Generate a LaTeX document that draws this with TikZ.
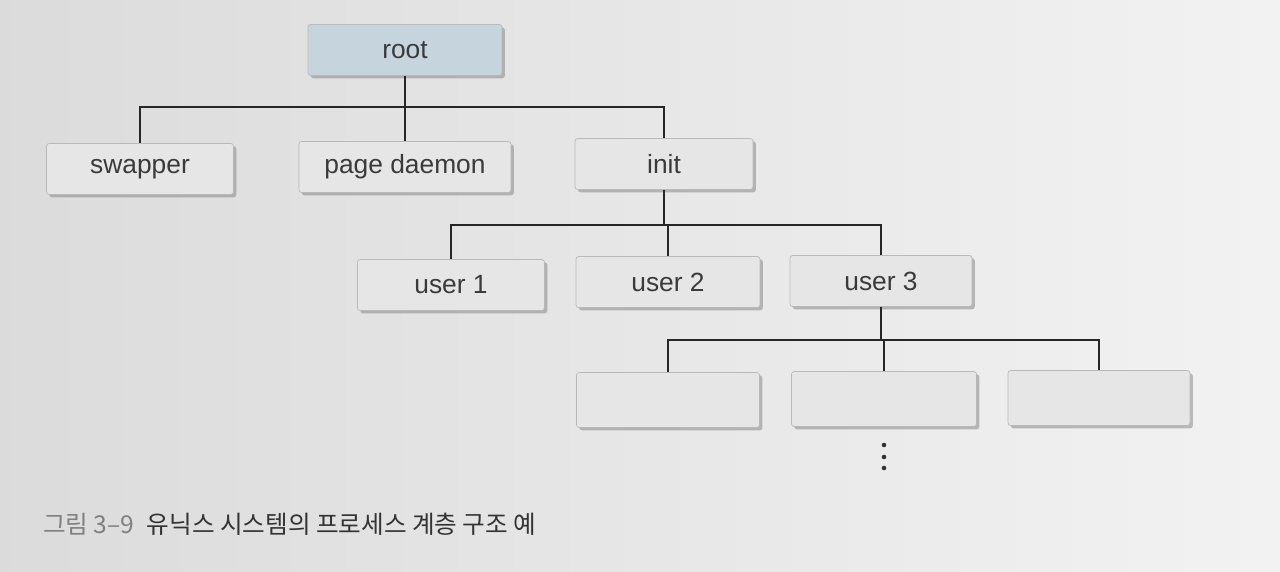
\documentclass[tikz,border=0pt]{standalone}
\usepackage{fontspec}
\usepackage{xcolor}
\usepackage{tikz}
\usetikzlibrary{positioning,shadows}
\newfontfamily\boxfont{Liberation Sans}
\newfontfamily\cjk{Noto Sans CJK KR}
\definecolor{rootfill}{HTML}{C6D4DE}
\definecolor{boxfill}{HTML}{E6E6E6}
\definecolor{boxtext}{HTML}{3A3A3A}

\begin{document}
\begin{tikzpicture}[
  x=0.02cm, y=-0.02cm,
  box/.style={draw=gray!55, fill=boxfill, rounded corners=1.5pt, minimum height=1.02cm,
    font=\boxfont\fontsize{15}{18}\selectfont, text=boxtext,
    drop shadow={shadow xshift=1.6pt, shadow yshift=-1.6pt, fill=black!55, opacity=.45}},
  link/.style={line width=0.8pt, black!85}
]
\shade[left color=gray!28, right color=gray!10] (0,0) rectangle (1280,571);
\useasboundingbox (0,0) rectangle (1280,571);

% top level
\node[box, fill=rootfill, minimum width=3.88cm] at (405,50) (root) {root};
\node[box, minimum width=3.74cm] at (140,169) (swapper) {swapper};
\node[box, minimum width=4.24cm] at (405,167) (pagedaemon) {page daemon};
\node[box, minimum width=3.56cm] at (664,164) (init) {init};

% users
\node[box, minimum width=3.74cm] at (451,285) (user1) {user 1};
\node[box, minimum width=3.68cm] at (668,282) (user2) {user 2};
\node[box, minimum width=3.64cm] at (881,281) (user3) {user 3};

% children of user 3
\node[box, minimum width=3.66cm, minimum height=1.1cm] at (668,400) (child1) {};
\node[box, minimum width=3.70cm, minimum height=1.1cm] at (884,399) (child2) {};
\node[box, minimum width=3.64cm, minimum height=1.1cm] at (1099,398) (child3) {};
\coordinate (more) at (884,457);
\foreach \dy in {-12,0,11}
  \fill[black!80] (more) ++(0,\dy) circle (1.3pt);

\coordinate (rootbus) at (405,107);
\coordinate (initbus) at (664,225);
\coordinate (userbus) at (881,340);

\draw[link] (root) -- (rootbus);
\draw[link] (swapper.north) |- (rootbus) -| (init.north);
\draw[link] (pagedaemon.north) -- (pagedaemon.north |- rootbus);

\draw[link] (init) -- (initbus);
\draw[link] (user1.north) |- (initbus) -| (user3.north);
\draw[link] (user2.north) -- (user2.north |- initbus);

\draw[link] (user3) -- (userbus);
\draw[link] (child1.north) |- (userbus) -| (child3.north);
\draw[link] (child2.north) -- (child2.north |- userbus);

\node[anchor=west, font=\cjk\fontsize{14}{17}\selectfont, text=black!80] at (37,524) (caption)
  {\textcolor{black!50}{그림 3–9}\hspace{0.5em}유닉스 시스템의 프로세스 계층 구조 예};
\end{tikzpicture}
\end{document}
